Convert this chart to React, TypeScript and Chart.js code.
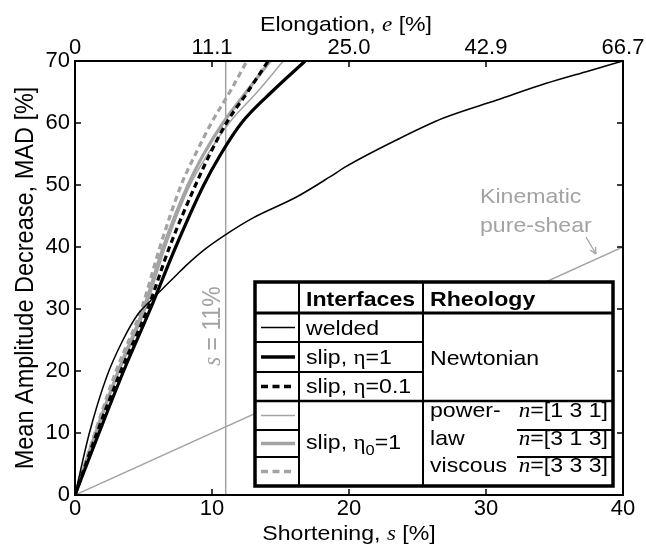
import React, { useEffect, useRef } from 'react';
import { Chart, registerables } from 'chart.js';

Chart.register(...registerables);

const SANS = '"Liberation Sans", Arial, Helvetica, sans-serif';
const SERIF = '"Liberation Serif", "Times New Roman", serif';
const GRAY = '#a3a3a3';
const SX = 1.1;

// tick labels
const xTickLabels = ['0', '10', '20', '30', '40'];
const topTickLabels = ['0', '11.1', '25.0', '42.9', '66.7'];
const yTickLabels = ['0', '10', '20', '30', '40', '50', '60', '70'];

// welded (thin black)
const weldedS = [0, 1.05, 2.3, 3.5, 4.6, 5.5, 6.5, 7.5, 8.2, 9.4, 11.0, 13.0, 16.2, 18.6, 19.8, 23.5, 26.9, 30.8, 34.4, 37.5, 40];
const weldedMAD = [0, 10, 19, 25, 29.2, 31.3, 33.5, 35.7, 37.2, 39.5, 42, 44.7, 48.1, 51.3, 53, 57.3, 60.8, 63.7, 66.4, 68.4, 70];

// steep curves share a MAD grid
const steepMAD = [0, 10, 20, 30, 40, 50, 55, 60, 65, 70];
const slipEta1S = [0, 1.75, 3.55, 5.5, 7.35, 9.4, 10.65, 12.15, 14.35, 16.8];
const slipEta01S = [0, 1.6, 3.35, 5.3, 6.9, 8.8, 9.85, 11.05, 12.6, 14.1];
const pl131S = [0, 1.55, 3.25, 5.15, 6.6, 8.4, 9.7, 11.25, 13.3, 15.2];
const pl313S = [0, 1.5, 3.15, 5.0, 6.45, 8.25, 9.4, 10.8, 12.5, 14.25];
const pl333S = [0, 1.45, 3.0, 4.85, 6.2, 7.75, 8.8, 9.95, 11.3, 12.55];

// kinematic pure-shear and s = 11% marker
const kinematicS = [0, 40];
const kinematicMAD = [0, 40];
const markerS = [11, 11];
const markerMAD = [0, 70];

const pts = (xs: number[], ys: number[]) => xs.map((x, i) => ({ x, y: ys[i] }));

type Part = [string, string, number?];

function drawPartsRaw(ctx: CanvasRenderingContext2D, parts: Part[], align: string) {
  let total = 0;
  for (const p of parts) {
    ctx.font = p[1];
    total += ctx.measureText(p[0]).width;
  }
  let cx = align === 'left' ? 0 : align === 'right' ? -total : -total / 2;
  ctx.textAlign = 'left';
  ctx.textBaseline = 'alphabetic';
  for (const p of parts) {
    ctx.font = p[1];
    ctx.fillText(p[0], cx, p[2] || 0);
    cx += ctx.measureText(p[0]).width;
  }
}

function drawParts(ctx: CanvasRenderingContext2D, parts: Part[], x: number, y: number, align = 'left', color = '#000') {
  ctx.save();
  ctx.fillStyle = color;
  ctx.translate(x, y);
  ctx.scale(SX, 1);
  drawPartsRaw(ctx, parts, align);
  ctx.restore();
}

function drawRotated(ctx: CanvasRenderingContext2D, parts: Part[], x: number, y: number, color = '#000') {
  ctx.save();
  ctx.fillStyle = color;
  ctx.translate(x, y);
  ctx.scale(SX, 1);
  ctx.rotate(-Math.PI / 2);
  drawPartsRaw(ctx, parts, 'center');
  ctx.restore();
}

function seg(ctx: CanvasRenderingContext2D, x1: number, y1: number, x2: number, y2: number) {
  ctx.beginPath();
  ctx.moveTo(x1, y1);
  ctx.lineTo(x2, y2);
  ctx.stroke();
}

const decorPlugin = {
  id: 'decor',
  afterDatasetsDraw(chart: any) {
    const ctx: CanvasRenderingContext2D = chart.ctx;
    const a = chart.chartArea;
    const reg = `21px ${SANS}`;
    const bold = `bold 21px ${SANS}`;
    const eta = `21px ${SERIF}`;
    const it = `italic 21px ${SERIF}`;

    // s = 11% label
    const xs = chart.scales.x;
    const mx = xs.getPixelForValue(11);
    drawRotated(ctx, [['s', `italic 23px ${SERIF}`], [' = 11%', `23px ${SANS}`]], mx - 6, a.top + 265, GRAY);

    // Kinematic annotation
    drawParts(ctx, [['Kinematic', reg]], a.left + 405, a.top + 142, 'left', GRAY);
    drawParts(ctx, [['pure-shear', reg]], a.left + 405, a.top + 171, 'left', GRAY);
    ctx.save();
    ctx.strokeStyle = GRAY;
    ctx.fillStyle = GRAY;
    ctx.lineWidth = 1.3;
    const ax1 = a.left + 511, ay1 = a.top + 176, ax2 = a.left + 521, ay2 = a.top + 193;
    seg(ctx, ax1, ay1, ax2, ay2);
    const ang = Math.atan2(ay2 - ay1, ax2 - ax1);
    const hl = 7;
    seg(ctx, ax2, ay2, ax2 - hl * Math.cos(ang - 0.45), ay2 - hl * Math.sin(ang - 0.45));
    seg(ctx, ax2, ay2, ax2 - hl * Math.cos(ang + 0.45), ay2 - hl * Math.sin(ang + 0.45));
    ctx.restore();

    // Legend table
    const L = a.left + 180, R = a.right - 10, T = a.top + 221, B = a.bottom - 9;
    const c1 = L + 44, c2 = L + 168;
    const h = T + 31, r1 = T + 60, r2 = T + 90, r3 = T + 119, r4 = T + 148, r5 = T + 175;
    ctx.save();
    ctx.fillStyle = '#fff';
    ctx.fillRect(L, T, R - L, B - T);
    ctx.strokeStyle = '#000';
    ctx.lineWidth = 2;
    seg(ctx, c1, T, c1, B);
    seg(ctx, c2, T, c2, B);
    seg(ctx, L, r1, c2, r1);
    seg(ctx, L, r2, c2, r2);
    seg(ctx, L, r4, c1, r4);
    seg(ctx, L, r5, c1, r5);
    seg(ctx, L + 262, r4, R, r4);
    seg(ctx, L + 262, r5, R, r5);
    ctx.lineWidth = 2.5;
    seg(ctx, L, r3, R, r3);
    ctx.lineWidth = 3;
    seg(ctx, L, h, R, h);
    ctx.lineWidth = 3.5;
    ctx.strokeRect(L, T, R - L, B - T);

    // samples
    const sx1 = L + 6, sx2 = L + 40;
    const sample = (y: number, color: string, w: number, dash: number[]) => {
      ctx.save();
      ctx.strokeStyle = color;
      ctx.lineWidth = w;
      ctx.setLineDash(dash);
      seg(ctx, sx1, y, sx2, y);
      ctx.restore();
    };
    sample((h + r1) / 2, '#000', 1.3, []);
    sample((r1 + r2) / 2, '#000', 3.5, []);
    sample((r2 + r3) / 2, '#000', 3.5, [7, 4.5]);
    sample((r3 + r4) / 2, GRAY, 1.5, []);
    sample((r4 + r5) / 2, GRAY, 3.5, []);
    sample((r5 + B) / 2, GRAY, 3.5, [7, 4.5]);
    ctx.restore();

    const tx = c1 + 7, rx = c2 + 7;
    drawParts(ctx, [['Interfaces', bold]], tx, T + 24);
    drawParts(ctx, [['Rheology', bold]], rx, T + 24);
    drawParts(ctx, [['welded', reg]], tx, T + 53);
    drawParts(ctx, [['slip, ', reg], ['\u03b7', eta], ['=1', reg]], tx, T + 82);
    drawParts(ctx, [['slip, ', reg], ['\u03b7', eta], ['=0.1', reg]], tx, T + 111);
    drawParts(ctx, [['Newtonian', reg]], rx, T + 83);
    drawParts(ctx, [['slip, ', reg], ['\u03b7', eta], ['0', `15px ${SANS}`, 6], ['=1', reg]], tx, T + 167);
    drawParts(ctx, [['power-', reg]], rx, T + 135);
    drawParts(ctx, [['law', reg]], rx, T + 163);
    drawParts(ctx, [['viscous', reg]], rx, T + 190);
    drawParts(ctx, [['n', it], ['=[1 3 1]', reg]], R - 5, T + 135, 'right');
    drawParts(ctx, [['n', it], ['=[3 1 3]', reg]], R - 5, T + 163, 'right');
    drawParts(ctx, [['n', it], ['=[3 3 3]', reg]], R - 5, T + 190, 'right');
  },
  afterDraw(chart: any) {
    const ctx: CanvasRenderingContext2D = chart.ctx;
    const a = chart.chartArea;
    const { x, y } = chart.scales;
    ctx.save();
    ctx.strokeStyle = '#000';
    ctx.lineWidth = 1.5;
    const tl = 6;
    for (const t of x.ticks) {
      const px = x.getPixelForValue(t.value);
      seg(ctx, px, a.bottom, px, a.bottom - tl);
      seg(ctx, px, a.top, px, a.top + tl);
    }
    for (const t of y.ticks) {
      const py = y.getPixelForValue(t.value);
      seg(ctx, a.left, py, a.left + tl, py);
      seg(ctx, a.right, py, a.right - tl, py);
    }
    ctx.lineWidth = 2;
    ctx.strokeRect(a.left, a.top, a.right - a.left, a.bottom - a.top);
    ctx.restore();

    const cx = (a.left + a.right) / 2;
    drawParts(ctx, [['Shortening, ', `21px ${SANS}`], ['s', `italic 21px ${SERIF}`], [' [%]', `21px ${SANS}`]], cx, 540, 'center');
    drawParts(ctx, [['Elongation, ', `21px ${SANS}`], ['e', `italic 21px ${SERIF}`], [' [%]', `21px ${SANS}`]], cx - 3, 31, 'center');
    drawRotated(ctx, [['Mean Amplitude Decrease, MAD [%]', `23.5px ${SANS}`]], 33, (a.top + a.bottom) / 2);
  },
};

export default function App() {
  const ref = useRef<HTMLCanvasElement>(null);
  useEffect(() => {
    if (!ref.current) return;
    const line = (data: any, color: string, width: number, dash: number[] = [], mono = true) => ({
      data,
      showLine: true,
      borderColor: color,
      backgroundColor: color,
      borderWidth: width,
      borderDash: dash,
      pointRadius: 0,
      fill: false,
      cubicInterpolationMode: mono ? 'monotone' : 'default',
      tension: 0,
    });
    const tickFont = { family: SANS, size: 22 };
    const chart = new Chart(ref.current, {
      type: 'scatter',
      data: {
        datasets: [
          line(pts(slipEta1S, steepMAD), '#000', 3.2),
          line(pts(slipEta01S, steepMAD), '#000', 3.2, [6, 4]),
          line(pts(weldedS, weldedMAD), '#000', 1.5),
          line(pts(pl333S, steepMAD), GRAY, 3.2, [6, 4]),
          line(pts(pl313S, steepMAD), GRAY, 3.2),
          line(pts(pl131S, steepMAD), GRAY, 1.5),
          line(pts(kinematicS, kinematicMAD), GRAY, 1.5, [], false),
          line(pts(markerS, markerMAD), GRAY, 1.5, [], false),
        ] as any,
      },
      options: {
        animation: false,
        responsive: false,
        devicePixelRatio: 1,
        layout: { padding: 0 },
        plugins: { legend: { display: false }, tooltip: { enabled: false } },
        scales: {
          x: {
            type: 'linear',
            position: 'bottom',
            min: 0,
            max: 40,
            ticks: { stepSize: 10, font: tickFont, color: '#000', padding: 1, maxRotation: 0, callback: (_v: any, i: number) => xTickLabels[i] },
            grid: { display: false, drawTicks: false },
            border: { display: false },
            afterFit: (s: any) => { s.height = 51; },
          },
          x2: {
            type: 'linear',
            position: 'top',
            min: 0,
            max: 40,
            ticks: { stepSize: 10, font: tickFont, color: '#000', padding: 0, maxRotation: 0, callback: (_v: any, i: number) => topTickLabels[i] },
            grid: { display: false, drawTicks: false },
            border: { display: false },
            afterFit: (s: any) => { s.height = 61; },
          },
          y: {
            type: 'linear',
            position: 'left',
            min: 0,
            max: 70,
            ticks: { stepSize: 10, font: tickFont, color: '#000', padding: 5, callback: (_v: any, i: number) => yTickLabels[i] },
            grid: { display: false, drawTicks: false },
            border: { display: false },
            afterFit: (s: any) => { s.width = 75; },
          },
          y2: {
            type: 'linear',
            position: 'right',
            min: 0,
            max: 70,
            ticks: { display: false, stepSize: 10 },
            grid: { display: false, drawTicks: false },
            border: { display: false },
            afterFit: (s: any) => { s.width = 23; },
          },
        },
      } as any,
      plugins: [decorPlugin],
    });
    return () => chart.destroy();
  }, []);
  return (
    <div style={{ position: 'absolute', left: 0, top: 0, width: 646, height: 546, background: '#fff' }}>
      <canvas ref={ref} width={646} height={546} style={{ display: 'block' }} />
    </div>
  );
}
